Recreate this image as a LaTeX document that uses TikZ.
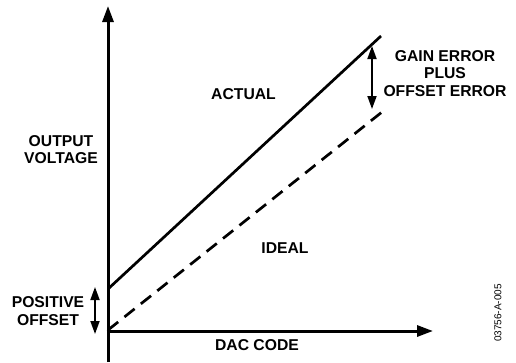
\documentclass[tikz,border=0pt]{standalone}
\usepackage{fontspec}
\setmainfont{Liberation Sans}
\usetikzlibrary{arrows.meta}
\begin{document}
\begin{tikzpicture}[x=1pt,y=-1pt,
  lbl/.style={font=\bfseries\fontsize{15.7}{17.5}\selectfont, align=center, inner sep=0pt},
  axis/.style={line width=3pt, -{Triangle[length=16pt,width=11pt]}},
  curve/.style={line width=2.7pt},
  dim/.style={line width=1.8pt, {Triangle[length=13pt,width=9pt]}-{Triangle[length=13pt,width=9pt]}}]
\useasboundingbox (0,0) rectangle (516,362);
\coordinate (o) at (106.5,331);
\coordinate (ybot) at (108,362);
\coordinate (ytop) at (108,6);
\coordinate (xr) at (433,331);
\coordinate (a0) at (108,289);
\coordinate (a1) at (381,36);
\coordinate (i0) at (108,330);
\coordinate (i1) at (382,112);
\coordinate (g0) at (372,46);
\coordinate (g1) at (372,109);
\coordinate (p0) at (95,287);
\coordinate (p1) at (95,334);
\draw[axis] (ybot) -- (ytop);
\draw[axis] (o) -- (xr);
\draw[curve] (a0) -- (a1);
\draw[curve, dash pattern=on 13pt off 8pt] (i0) -- (i1);
\draw[dim] (g0) -- (g1);
\draw[dim] (p0) -- (p1);
\node[lbl] (ov) at (61,149.5) {OUTPUT\\VOLTAGE};
\node[lbl] (act) at (243.5,94.5) {ACTUAL};
\node[lbl] (ide) at (285,248.5) {IDEAL};
\node[lbl] (dac) at (257,345) {DAC CODE};
\node[lbl] (po) at (48,311) {POSITIVE\\OFFSET};
\node[lbl] (ge) at (445,73.5) {GAIN ERROR\\PLUS\\OFFSET ERROR};
\node[font=\fontsize{10}{11}\selectfont, rotate=90, inner sep=0pt] (id) at (498,313) {03756-A-005};
\end{tikzpicture}
\end{document}
